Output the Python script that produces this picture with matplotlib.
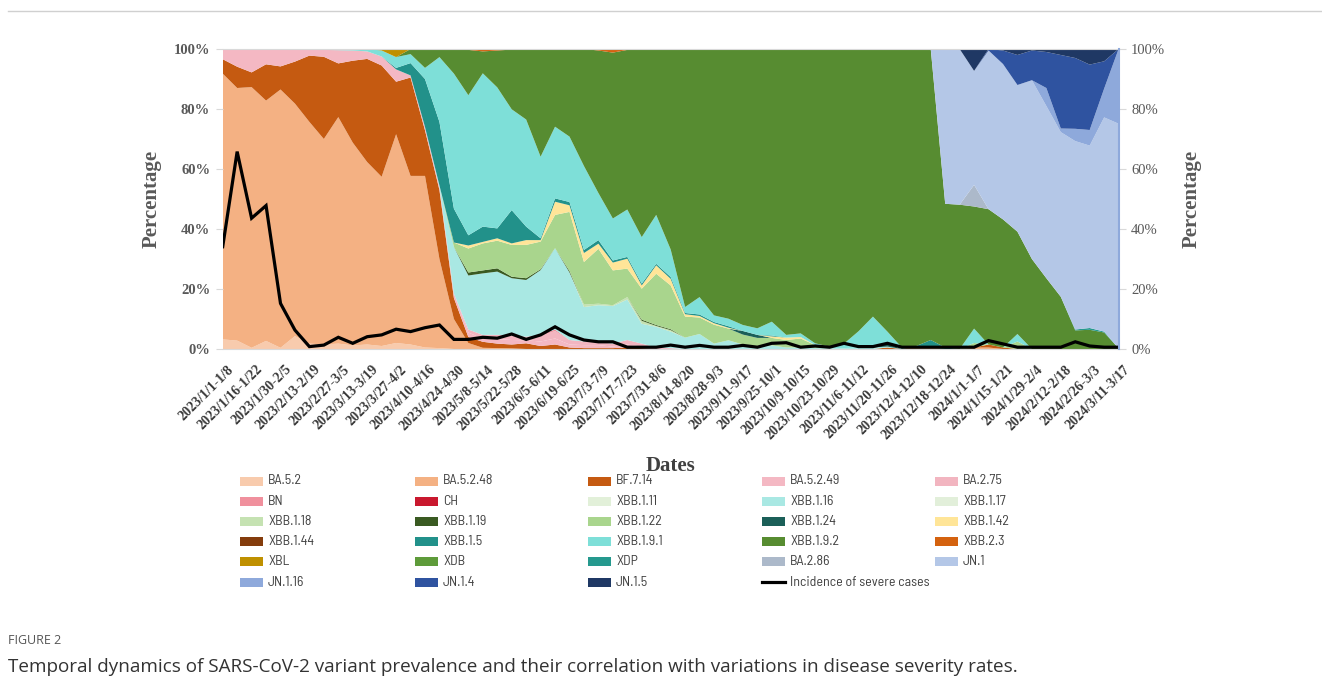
import numpy as np
import matplotlib.pyplot as plt
from matplotlib import font_manager
from matplotlib.font_manager import FontProperties
from matplotlib.patches import Rectangle
from matplotlib.lines import Line2D
from matplotlib.transforms import ScaledTranslation

# weekly periods, every second one is labelled on the x axis
weeks = np.arange(63)
tick_labels = [
    "2023/1/1-1/8", "2023/1/16-1/22", "2023/1/30-2/5", "2023/2/13-2/19",
    "2023/2/27-3/5", "2023/3/13-3/19", "2023/3/27-4/2", "2023/4/10-4/16",
    "2023/4/24-4/30", "2023/5/8-5/14", "2023/5/22-5/28", "2023/6/5-6/11",
    "2023/6/19-6/25", "2023/7/3-7/9", "2023/7/17-7/23", "2023/7/31-8/6",
    "2023/8/14-8/20", "2023/8/28-9/3", "2023/9/11-9/17", "2023/9/25-10/1",
    "2023/10/9-10/15", "2023/10/23-10/29", "2023/11/6-11/12", "2023/11/20-11/26",
    "2023/12/4-12/10", "2023/12/18-12/24", "2024/1/1-1/7", "2024/1/15-1/21",
    "2024/1/29-2/4", "2024/2/12-2/18", "2024/2/26-3/3", "2024/3/11-3/17",
]

# variant shares per week (%)
ba_5_2 = [3.2, 2.8, 0.4, 2.7, 0.4, 4.3, 1.8, 1.5, 1.8, 1.2,
          1.5, 1.0, 2.0, 1.5, 0.5, 0.3, 0, 0, 0, 0,
          0, 0, 0, 0, 0, 0, 0, 0, 0, 0,
          0, 0, 0, 0, 0, 0, 0, 0, 0, 0,
          0, 0, 0, 0, 0, 0, 0, 0, 0, 0,
          0, 0, 0, 0, 0, 0, 0, 0, 0, 0,
          0, 0, 0]
ba_5_2_48 = [88.6, 84.2, 86.9, 80.1, 86.1, 77.5, 73.9, 68.5, 75.5, 67.6,
             60.8, 56.4, 69.6, 56.2, 57.2, 29.7, 10.0, 2.0, 0.4, 0.3,
             0.2, 0, 0, 0, 0, 0, 0, 0, 0, 0,
             0, 0, 0, 0, 0, 0, 0, 0, 0, 0,
             0, 0, 0, 0, 0, 0, 0, 0, 1.0, 0.5,
             0, 0, 0.5, 0.5, 0, 0, 0, 0, 0, 0,
             0, 0, 0]
bf_7_14 = [4.8, 7.1, 4.9, 12.1, 7.7, 14.0, 22.1, 27.4, 17.9, 27.3,
           34.4, 37.1, 17.5, 32.8, 15.2, 23.0, 7.0, 2.0, 2.0, 1.5,
           1.3, 1.9, 1.0, 1.5, 0.5, 0.3, 0.3, 0.3, 0.5, 0.3,
           0, 0, 0, 0, 0, 0, 0, 0, 0, 0,
           0, 0, 0, 0, 0, 0, 0.5, 0, 0, 0,
           0, 0, 0, 1.0, 0.5, 0, 0, 0, 0, 0,
           0, 0, 0]
ba_5_2_49 = [3.4, 5.9, 7.8, 5.1, 5.8, 4.2, 2.2, 2.3, 4.4, 3.4,
             2.5, 3.0, 4.1, 0.7, 1.1, 1.0, 1.5, 1.5, 1.0, 1.5,
             1.5, 1.0, 1.5, 2.0, 1.0, 1.0, 1.0, 0.5, 1.0, 0.5,
             0.3, 0.3, 0, 0, 0, 0, 0, 0, 0, 0,
             0, 0, 0, 0, 0, 0, 0, 0, 0, 0,
             0, 0, 0, 0, 0, 0, 0, 0, 0, 0,
             0, 0, 0]
ba_2_75 = [0, 0, 0, 0, 0, 0, 0, 0, 0, 0,
           0, 0, 0, 0, 0, 0, 0, 1.0, 1.3, 1.4,
           1.5, 1.2, 1.9, 2.5, 1.5, 1.2, 1.0, 1.0, 1.5, 1.0,
           0.2, 0, 0, 0, 0, 0, 0, 0, 0, 0,
           0, 0, 0, 0, 0, 0, 0, 0, 0, 0,
           0, 0, 0, 0, 0, 0, 0, 0, 0, 0,
           0, 0, 0]
bn = [0, 0, 0, 0, 0, 0, 0, 0, 0, 0,
      0, 0, 0, 0, 0, 0, 0, 0, 0, 0,
      0, 0, 0.3, 0.5, 0, 0, 0, 0, 0, 0,
      0, 0, 0, 0, 0, 0, 0, 0, 0, 0,
      0, 0, 0, 0, 0, 0, 0, 0, 0, 0,
      0, 0, 0, 0, 0, 0, 0, 0, 0, 0,
      0, 0, 0]
ch = [0] * 63
xbb_1_11 = [0] * 63
xbb_1_16 = [0, 0, 0, 0, 0, 0, 0, 0, 0, 0,
            0, 0, 0, 0, 0, 0.5, 15.5, 18.0, 20.5, 21.1,
            19.1, 18.9, 21.6, 27.1, 22.5, 11.5, 12.3, 12.5, 13.5, 6.6,
            6.9, 5.5, 3.8, 5.0, 1.8, 2.9, 1.5, 0.7, 1.2, 0.5,
            0.5, 0.3, 0.3, 0.3, 0.5, 0.5, 0.3, 0, 0, 0,
            0, 0, 0, 0, 0, 0, 0, 0, 0, 0,
            0, 0, 0]
xbb_1_17 = [0] * 63
xbb_1_18 = [0, 0, 0, 0, 0, 0, 0, 0, 0, 0,
            0, 0, 0, 0, 0, 0, 0, 0, 0, 0,
            0, 0, 0, 0, 0, 0.8, 0.5, 0.3, 0.8, 1.0,
            0.3, 0.5, 0, 0, 0, 0, 0, 0, 0, 0,
            0, 0, 0, 0, 0, 0, 0, 0, 0, 0,
            0, 0, 0, 0, 0, 0, 0, 0, 0, 0,
            0, 0, 0]
xbb_1_19 = [0, 0, 0, 0, 0, 0, 0, 0, 0, 0,
            0, 0, 0, 0, 0, 0, 0, 1.0, 1.0, 1.1,
            0.5, 0.6, 0.3, 0, 0.5, 0, 0, 0, 0, 0.4,
            0.3, 0.3, 0, 0, 0, 0, 0, 0, 0, 0,
            0, 0, 0, 0, 0, 0, 0, 0, 0, 0,
            0, 0, 0, 0, 0, 0, 0, 0, 0, 0,
            0, 0, 0]
xbb_1_22 = [0, 0, 0, 0, 0, 0, 0, 0, 0, 0,
            0, 0, 0, 0, 0, 0, 1.5, 8.0, 9.0, 9.2,
            10.6, 11.1, 9.2, 11.1, 19.7, 14.2, 18.3, 11.6, 9.5, 10.3,
            17.1, 14.6, 7.0, 5.5, 6.3, 3.9, 3.3, 3.0, 2.5, 2.5,
            3.0, 1.0, 0, 0, 0, 0, 0, 0, 0, 0,
            0, 0, 1.5, 0, 0, 2.5, 0, 0, 0, 0,
            0, 0, 0]
xbb_1_24 = [0, 0, 0, 0, 0, 0, 0, 0, 0, 0,
            0, 0, 0, 0, 0, 0, 0, 0, 0, 0,
            0, 0, 0, 0, 0, 0, 0, 0, 0, 0,
            0, 0, 0, 0, 0, 0, 1.2, 1.0, 0, 0,
            0, 0, 0, 0, 0, 0, 1.0, 0, 0, 0,
            0, 0, 0, 0, 0, 0, 0, 0, 0, 0,
            0, 0, 0]
xbb_1_42 = [0, 0, 0, 0, 0, 0, 0, 0, 0, 0,
            0, 0, 0, 0, 0, 0, 0, 1.0, 0.5, 0.8,
            0.5, 1.6, 0.5, 4.4, 2.2, 3.0, 1.7, 2.6, 3.3, 1.1,
            2.8, 2.2, 0.8, 0.5, 0.5, 0.3, 0, 0, 0.5, 0.8,
            0.5, 0, 0, 0, 0, 0, 0, 0, 0, 0,
            0, 0, 0, 0, 0, 0, 0, 0, 0, 0,
            0, 0, 0]
xbb_1_44 = [0] * 63
xbb_1_5 = [0, 0, 0, 0, 0, 0, 0, 0, 0, 0,
           0, 0, 0.5, 4.1, 16.0, 21.2, 11.3, 3.4, 5.1, 3.3,
           11.1, 4.5, 0.6, 1.1, 1.1, 1.0, 1.2, 0.7, 0.6, 0.6,
           0.5, 0.6, 0.4, 0.5, 0.4, 0.5, 0, 0, 0.3, 0,
           0, 0, 0, 0, 0, 0, 0, 0, 0, 2.5,
           0.5, 0, 0, 0, 0, 0, 0, 0, 0, 0,
           0, 0, 0]
xbb_1_9_1 = [0, 0, 0, 0, 0, 0, 0, 0.3, 0.4, 0.5,
             0.8, 2.0, 3.6, 3.0, 3.7, 21.6, 45.0, 46.7, 51.1, 47.0,
             33.6, 35.7, 27.2, 23.9, 21.8, 28.0, 15.7, 14.0, 15.8, 15.5,
             16.3, 9.2, 2.0, 5.8, 2.2, 2.5, 2.0, 2.2, 4.6, 0.9,
             1.2, 0.6, 0.5, 1.5, 5.4, 10.3, 4.0, 0.5, 0, 0,
             0, 0, 4.8, 0, 0, 2.5, 0, 0, 0, 0,
             0, 0, 0]
xbb_1_9_2 = [0, 0, 0, 0, 0, 0, 0, 0, 0, 0,
             0, 0, 0, 1.7, 6.3, 2.7, 8.2, 15.1, 7.3, 12.3,
             19.9, 23.5, 35.9, 25.9, 29.2, 39.0, 47.5, 55.3, 53.2, 62.7,
             55.3, 66.8, 86.0, 82.7, 88.8, 89.9, 92.0, 93.1, 90.9, 95.3,
             94.8, 98.1, 99.2, 98.2, 94.1, 89.2, 94.2, 99.5, 99.0, 97.0,
             47.9, 48.1, 40.7, 45.1, 42.7, 34.1, 30.0, 23.6, 17.4, 6.2,
             6.4, 5.5, 0.2]
xbb_2_3 = [0, 0, 0, 0, 0, 0, 0, 0, 0, 0,
           0, 0, 0, 0, 0, 0, 0, 0.3, 0.8, 0.5,
           0.2, 0, 0, 0, 0, 0, 0.5, 1.2, 0.3, 0,
           0, 0, 0, 0, 0, 0, 0, 0, 0, 0,
           0, 0, 0, 0, 0, 0, 0, 0, 0, 0,
           0, 0, 0, 0, 0, 0, 0, 0, 0, 0,
           0, 0, 0]
xbl = [0, 0, 0, 0, 0, 0, 0, 0, 0, 0,
       0, 0.5, 2.7, 0, 0, 0, 0, 0, 0, 0,
       0, 0, 0, 0, 0, 0, 0, 0, 0, 0,
       0, 0, 0, 0, 0, 0, 0, 0, 0, 0,
       0, 0, 0, 0, 0, 0, 0, 0, 0, 0,
       0, 0, 0, 0, 0, 0, 0, 0, 0, 0,
       0, 0, 0]
xdb = [0] * 63
xdp = [0, 0, 0, 0, 0, 0, 0, 0, 0, 0,
       0, 0, 0, 0, 0, 0, 0, 0, 0, 0,
       0, 0, 0, 0, 0, 0, 0, 0, 0, 0,
       0, 0, 0, 0, 0, 0, 0, 0, 0, 0,
       0, 0, 0, 0, 0, 0, 0, 0, 0, 0,
       0, 0, 0, 0, 0, 0, 0, 0, 0, 0.3,
       0.6, 0.3, 0]
ba_2_86 = [0, 0, 0, 0, 0, 0, 0, 0, 0, 0,
           0, 0, 0, 0, 0, 0, 0, 0, 0, 0,
           0, 0, 0, 0, 0, 0, 0, 0, 0, 0,
           0, 0, 0, 0, 0, 0, 0, 0, 0, 0,
           0, 0, 0, 0, 0, 0, 0, 0, 0, 0,
           0, 0, 7.2, 0, 0, 0, 0, 0, 0, 0,
           0, 0, 0]
jn_1 = [0, 0, 0, 0, 0, 0, 0, 0, 0, 0,
        0, 0, 0, 0, 0, 0, 0, 0, 0, 0,
        0, 0, 0, 0, 0, 0, 0, 0, 0, 0,
        0, 0, 0, 0, 0, 0, 0, 0, 0, 0,
        0, 0, 0, 0, 0, 0, 0, 0, 0, 0,
        51.6, 51.9, 38.0, 52.9, 51.8, 48.9, 59.6, 57.4, 54.9, 62.8,
        60.8, 71.4, 74.9]
jn_1_16 = [0, 0, 0, 0, 0, 0, 0, 0, 0, 0,
           0, 0, 0, 0, 0, 0, 0, 0, 0, 0,
           0, 0, 0, 0, 0, 0, 0, 0, 0, 0,
           0, 0, 0, 0, 0, 0, 0, 0, 0, 0,
           0, 0, 0, 0, 0, 0, 0, 0, 0, 0,
           0, 0, 0, 0, 0, 0, 0, 6.0, 1.2, 4.1,
           5.2, 9.6, 24.9]
jn_1_4 = [0, 0, 0, 0, 0, 0, 0, 0, 0, 0,
          0, 0, 0, 0, 0, 0, 0, 0, 0, 0,
          0, 0, 0, 0, 0, 0, 0, 0, 0, 0,
          0, 0, 0, 0, 0, 0, 0, 0, 0, 0,
          0, 0, 0, 0, 0, 0, 0, 0, 0, 0,
          0, 0, 0, 0.5, 4.5, 10.0, 9.9, 12.0, 24.5, 23.6,
          21.8, 9.1, 0]
jn_1_5 = [0, 0, 0, 0, 0, 0, 0, 0, 0, 0,
          0, 0, 0, 0, 0, 0, 0, 0, 0, 0,
          0, 0, 0, 0, 0, 0, 0, 0, 0, 0,
          0, 0, 0, 0, 0, 0, 0, 0, 0, 0,
          0, 0, 0, 0, 0, 0, 0, 0, 0, 0,
          0, 0, 7.3, 0, 0.5, 2.0, 0.5, 1.0, 2.0, 3.0,
          5.2, 4.1, 0]

# incidence of severe cases (%)
severe = [34.1, 65.8, 43.6, 47.8, 15.2, 6.3, 0.8, 1.3, 3.9, 1.9,
          4.1, 4.7, 6.6, 5.8, 7.1, 8.0, 3.2, 3.2, 3.9, 3.6,
          5.0, 3.2, 4.7, 7.4, 4.7, 3.0, 2.4, 2.4, 0.6, 0.6,
          0.6, 1.3, 0.6, 1.2, 0.6, 0.6, 1.2, 0.6, 1.9, 2.1,
          0.6, 1.0, 0.6, 1.9, 0.8, 0.8, 1.9, 0.6, 0.6, 0.6,
          0.6, 0.6, 0.6, 2.8, 1.7, 0.6, 0.6, 0.6, 0.6, 2.4,
          1.0, 0.6, 0.6]

variants = ["BA.5.2", "BA.5.2.48", "BF.7.14", "BA.5.2.49", "BA.2.75",
            "BN", "CH", "XBB.1.11", "XBB.1.16", "XBB.1.17",
            "XBB.1.18", "XBB.1.19", "XBB.1.22", "XBB.1.24", "XBB.1.42",
            "XBB.1.44", "XBB.1.5", "XBB.1.9.1", "XBB.1.9.2", "XBB.2.3",
            "XBL", "XDB", "XDP", "BA.2.86", "JN.1",
            "JN.1.16", "JN.1.4", "JN.1.5"]
shares = [ba_5_2, ba_5_2_48, bf_7_14, ba_5_2_49, ba_2_75,
          bn, ch, xbb_1_11, xbb_1_16, xbb_1_17,
          xbb_1_18, xbb_1_19, xbb_1_22, xbb_1_24, xbb_1_42,
          xbb_1_44, xbb_1_5, xbb_1_9_1, xbb_1_9_2, xbb_2_3,
          xbl, xdb, xdp, ba_2_86, jn_1,
          jn_1_16, jn_1_4, jn_1_5]
colors = ["#F8CBAD", "#F4B183", "#C55A11", "#F4B8C3", "#F2B5C0",
          "#F0909D", "#C9182E", "#E2F0D9", "#A9E8E3", "#E2EFDA",
          "#C5E2B2", "#3A5A22", "#A9D58D", "#1B5F58", "#FFE598",
          "#843C0C", "#22918A", "#7EDFD8", "#578C31", "#D4620F",
          "#BF9000", "#5E9B3A", "#25998E", "#ACB9CA", "#B4C7E7",
          "#8EA9DB", "#2F53A0", "#1F3864"]


def narrow_font(size):
    # pick a condensed sans face for the legend if one is installed
    best = None
    for f in font_manager.fontManager.ttflist:
        fname = f.fname.lower()
        if f.style != "normal" or f.weight not in (400, "normal", "regular"):
            continue
        if "narrow" in fname or "condensed" in fname or f.stretch in ("condensed", "semi-condensed"):
            if "bold" in fname or "italic" in fname or "light" in fname or "mono" in fname:
                continue
            rank = 0 if "liberationsansnarrow" in fname.replace("-", "") else (1 if "semicondensed" in fname else 2)
            if best is None or rank < best[0]:
                best = (rank, f.fname)
    if best is None:
        return FontProperties(family="DejaVu Sans", size=size - 1)
    return FontProperties(fname=best[1], size=size)


W, H = 1322, 696
fig = plt.figure(figsize=(W / 100, H / 100), dpi=100)
ax = fig.add_axes([222.7 / W, 1 - 349 / H, (1118.6 - 222.7) / W, 300 / H])

ax.stackplot(weeks, *shares, colors=colors, linewidth=0)
ax.set_xlim(0, 62)
ax.set_ylim(0, 100)

serif = "Liberation Serif"
grey = "#595959"
ax.set_yticks(range(0, 101, 20))
ax.set_yticklabels([f"{v}%" for v in range(0, 101, 20)],
                   fontfamily=serif, fontweight="bold", fontsize=10.5, color=grey)
ax.tick_params(axis="y", length=5, color="#D9D9D9", pad=4)
ax.set_xticks(weeks[::2])
ax.set_xticklabels(tick_labels, rotation=45, ha="right", va="top",
                   rotation_mode="anchor", fontfamily=serif,
                   fontweight="bold", fontsize=10, color="#3A3A3A")
ax.tick_params(axis="x", length=0, pad=10)
shift = ScaledTranslation(3 / 72, 0, fig.dpi_scale_trans)
for lab in ax.get_xticklabels():
    lab.set_transform(lab.get_transform() + shift)
for side in ["left", "right"]:
    ax.spines[side].set_visible(False)
ax.spines["top"].set_color("#D9D9D9")
ax.spines["bottom"].set_color("#D9D9D9")
ax.set_ylabel("Percentage", fontfamily=serif, fontweight="bold",
              fontsize=15, color=grey, labelpad=9)
ax.set_xlabel("Dates", fontfamily=serif, fontweight="bold",
              fontsize=15, color="#404040", va="center")
ax.xaxis.set_label_coords(0.5, (349 - 466) / 300)

# severe case incidence on the secondary axis
ax2 = ax.twinx()
ax2.plot(weeks, severe, color="black", lw=2.3, solid_joinstyle="miter")
ax2.set_ylim(0, 100)
ax2.set_yticks(range(0, 101, 20))
ax2.set_yticklabels([f"{v}%" for v in range(0, 101, 20)],
                    fontfamily=serif, fontsize=10.5, color=grey)
ax2.tick_params(axis="y", length=5, color="#D9D9D9", pad=4)
for side in ["left", "top", "bottom"]:
    ax2.spines[side].set_visible(False)
ax2.spines["right"].set_color("#8EA9DB")
ax2.spines["right"].set_linewidth(1.5)
ax2.set_ylabel("Percentage", fontfamily=serif, fontweight="bold",
               fontsize=15, color=grey, labelpad=12)

# legend laid out in five evenly spaced columns
col_x = [240, 415, 588, 762, 935]
row_y0, row_step = 481, 20.2
legend_fp = narrow_font(10)
entries = list(zip(variants, colors)) + [("Incidence of severe cases", None)]
for k, (name, color) in enumerate(entries):
    r, c = divmod(k, 5)
    x, y = col_x[c], row_y0 + r * row_step
    if color is None:
        fig.add_artist(Line2D([x / W, (x + 23) / W], [1 - y / H, 1 - y / H],
                              color="black", lw=2.3, transform=fig.transFigure))
    else:
        fig.add_artist(Rectangle((x / W, 1 - (y + 4.5) / H), 23 / W, 9 / H,
                                 facecolor=color, edgecolor="none",
                                 transform=fig.transFigure))
    fig.text((x + 28) / W, 1 - y / H, name, fontproperties=legend_fp,
             color="#404040", va="center", ha="left")

# caption under the chart
fig.add_artist(Line2D([8 / W, 1], [1 - 11 / H, 1 - 11 / H], color="#D0D0D0",
                      lw=1, transform=fig.transFigure))
fig.text(8 / W, 1 - 641 / H, "FIGURE 2", fontfamily="Open Sans",
         fontsize=9, color="#555555", va="center")
fig.text(8 / W, 1 - 667 / H,
         "Temporal dynamics of SARS-CoV-2 variant prevalence and their "
         "correlation with variations in disease severity rates.",
         fontfamily="Open Sans", fontsize=13.6, color="#333333", va="center")

fig.savefig("out.png", dpi=100)
